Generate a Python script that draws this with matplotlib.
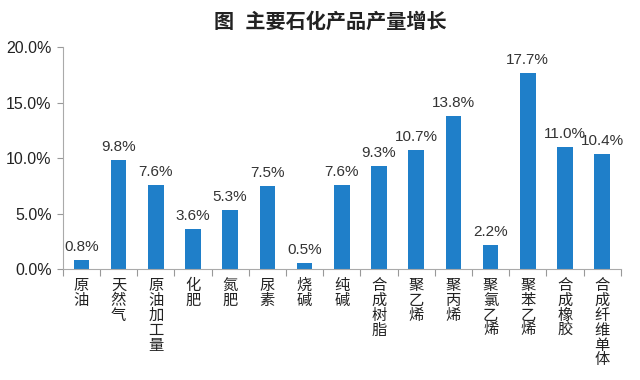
import matplotlib
matplotlib.use("Agg")
import matplotlib.pyplot as plt
from matplotlib.ticker import FuncFormatter, FixedLocator

plt.rcParams['font.family'] = ['Liberation Sans', 'Noto Sans CJK SC', 'DejaVu Sans']

categories = ["原油", "天然气", "原油加工量", "化肥", "氮肥", "尿素", "烧碱", "纯碱",
              "合成树脂", "聚乙烯", "聚丙烯", "聚氯乙烯", "聚苯乙烯", "合成橡胶", "合成纤维单体"]
values = [0.8, 9.8, 7.6, 3.6, 5.3, 7.5, 0.5, 7.6, 9.3, 10.7, 13.8, 2.2, 17.7, 11.0, 10.4]
yticks = [0, 5, 10, 15, 20]

fig = plt.figure(figsize=(6.4, 3.8), dpi=100)
ax = fig.add_axes([0.098, 0.292, 0.872, 0.584])
x = list(range(len(categories)))
ax.bar(x, values, width=0.42, color="#1f7fc9", zorder=2)
for xi, v in zip(x, values):
    ax.text(xi, v + 0.55, f"{v:.1f}%", ha="center", va="bottom", fontsize=11, color="#333333")

ax.set_xlim(-0.5, len(categories) - 0.5)
ax.set_ylim(0, 20)
ax.set_yticks(yticks)
ax.yaxis.set_major_formatter(FuncFormatter(lambda v, p: f"{v:.1f}%"))
ax.tick_params(axis="y", labelsize=11.5, colors="#999999", labelcolor="#222222", length=4, width=0.8, pad=4)
ax.set_xticks([i - 0.5 for i in range(len(categories) + 1)])
ax.set_xticklabels([])
ax.xaxis.set_minor_locator(FixedLocator(x))
ax.set_xticklabels(["\n".join(c) for c in categories], minor=True)
ax.tick_params(axis="x", which="minor", length=0, labelsize=11, labelcolor="#222222", pad=7)
ax.tick_params(axis="x", which="major", length=5, colors="#999999", width=0.8)
for lab in ax.get_xticklabels(minor=True):
    lab.set_linespacing(1.08)
    lab.set_va("top")

for s in ["top", "right"]:
    ax.spines[s].set_visible(False)
for s in ["left", "bottom"]:
    ax.spines[s].set_color("#aaaaaa")
    ax.spines[s].set_linewidth(0.8)

fig.text(0.516, 0.942, "图  主要石化产品产量增长", ha="center", va="center",
         fontsize=14.5, fontweight="bold", color="#222222")

fig.savefig("out.png", dpi=100, facecolor="white")
